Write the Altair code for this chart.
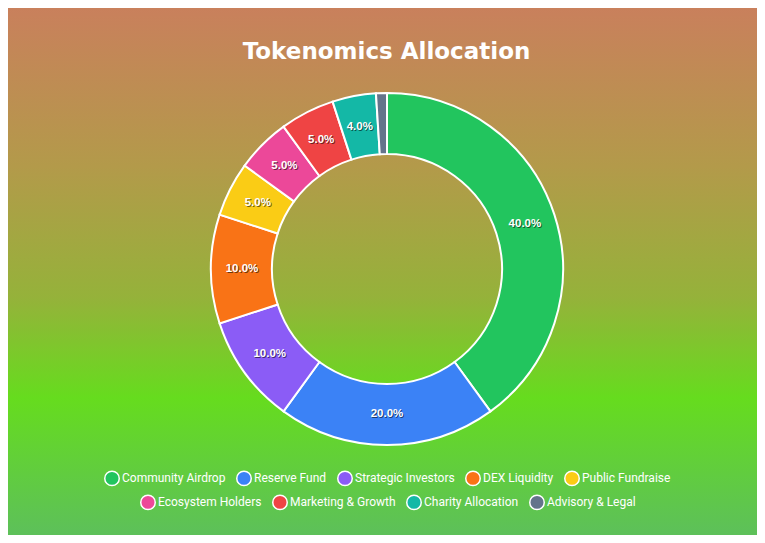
import altair as alt
import pandas as pd

categories = ["Community Airdrop", "Reserve Fund", "Strategic Investors", "DEX Liquidity",
              "Public Fundraise", "Ecosystem Holders", "Marketing & Growth",
              "Charity Allocation", "Advisory & Legal"]
values = [40, 20, 10, 10, 5, 5, 5, 4, 1]
colors = ["#22c55e", "#3b82f6", "#8b5cf6", "#f97316", "#facc15",
          "#ec4899", "#ef4444", "#14b8a6", "#64748b"]

W, H = 749, 527
CX, CY = 379, 261
R_OUT, R_IN = 176, 115

df = pd.DataFrame({
    "idx": list(range(len(categories))),
    "category": categories,
    "value": values,
    "label": [f"{v:.1f}%" if v >= 2 else "" for v in values],
})

legend_font = "Roboto, sans-serif"

bg = alt.Chart(alt.Data(values=[{"a": 1}])).mark_rect(
    color=alt.Gradient(
        gradient="linear", x1=0, x2=0, y1=0, y2=1,
        stops=[
            alt.GradientStop(offset=0.0, color="#c9805c"),
            alt.GradientStop(offset=0.3, color="#b39a4a"),
            alt.GradientStop(offset=0.55, color="#95b23a"),
            alt.GradientStop(offset=0.74, color="#66dc1e"),
            alt.GradientStop(offset=1.0, color="#5dc05a"),
        ],
    )
).encode(x=alt.value(0), x2=alt.value(W), y=alt.value(0), y2=alt.value(H))

base = alt.Chart(df).encode(
    theta=alt.Theta("value:Q", stack=True),
    order=alt.Order("idx:Q", sort="ascending"),
    x=alt.value(CX), y=alt.value(CY),
)

legend_common = dict(
    orient="none", direction="horizontal", title=None, symbolType="circle",
    symbolSize=210, symbolStrokeColor="white", symbolStrokeWidth=1.5,
    labelFont=legend_font, labelFontSize=12, labelColor="white",
    labelOffset=2, columnPadding=7, padding=0, labelLimit=300,
)

arcs = base.mark_arc(outerRadius=R_OUT, innerRadius=R_IN, stroke="white", strokeWidth=2).encode(
    color=alt.Color("category:N",
                    scale=alt.Scale(domain=categories, range=colors),
                    legend=alt.Legend(values=categories[:5], legendX=96, legendY=462,
                                      **legend_common)),
)

arcs2 = base.transform_filter(
    alt.FieldOneOfPredicate(field="category", oneOf=categories[5:])
).mark_arc(outerRadius=0, innerRadius=0).encode(
    color=alt.Color("category:N",
                    scale=alt.Scale(domain=categories[5:], range=colors[5:]),
                    legend=alt.Legend(legendX=132, legendY=486, **legend_common)),
)

label_font = "Liberation Sans, sans-serif"
shadow = base.mark_text(radius=145, font=label_font, fontSize=11.5, fontWeight="bold",
                        dx=1, dy=1, color="#000000", opacity=0.55).encode(text="label:N")
labels = base.mark_text(radius=145, font=label_font, fontSize=11.5, fontWeight="bold",
                        color="white").encode(text="label:N")

chart = alt.layer(bg, arcs, arcs2, shadow, labels).resolve_scale(
    color="independent"
).properties(
    width=W, height=H,
    autosize=alt.AutoSizeParams(type="none"),
    padding=0,
    title=alt.TitleParams("Tokenomics Allocation", font="DejaVu Sans", fontSize=23,
                          fontWeight="bold", color="white", anchor="middle",
                          offset=-56, dx=4),
).configure_view(stroke=None)

chart.save("out.html", embed_options={"renderer": "svg", "actions": False})
